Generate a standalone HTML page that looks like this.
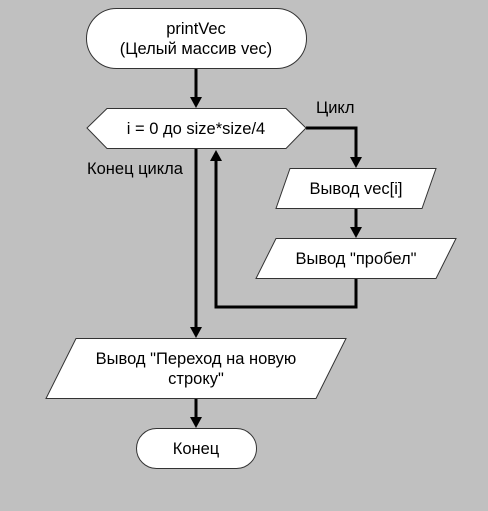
<!DOCTYPE html>
<html><head><meta charset="utf-8"><style>
html,body{margin:0;padding:0;background:#c0c0c0;}
svg{display:block;}
text{font-family:"Liberation Sans",Arial,sans-serif;font-size:16.5px;fill:#000;}
</style></head><body>
<svg width="488" height="511" viewBox="0 0 488 511" xmlns="http://www.w3.org/2000/svg">
<rect width="488" height="511" fill="#c0c0c0"/>
<g stroke="#000" stroke-width="3" fill="none">
<line x1="196" y1="68" x2="196" y2="100"/>
<polyline points="306,128 356,128 356,160"/>
<line x1="356" y1="208" x2="356" y2="230"/>
<polyline points="356,278 356,307 216,307 216,158"/>
<line x1="196" y1="148" x2="196" y2="330"/>
<line x1="196" y1="398" x2="196" y2="420"/>
</g>
<g fill="#000">
<polygon points="190,97 202,97 196,108"/>
<polygon points="350,157 362,157 356,168"/>
<polygon points="350,227 362,227 356,238"/>
<polygon points="210,161 222,161 216,150"/>
<polygon points="190,327 202,327 196,338"/>
<polygon points="190,417 202,417 196,428"/>
</g>
<g fill="#fff" stroke="#333" stroke-width="1">
<rect x="86.5" y="8.5" width="220" height="60" rx="30" ry="30"/>
<polygon points="87,128 107,108.5 286,108.5 306,128 286,148.5 107,148.5"/>
<polygon points="290,168.5 436,168.5 422,208.5 276,208.5"/>
<polygon points="276,238.5 456,238.5 436,278.5 256,278.5"/>
<polygon points="76,338.5 346,338.5 316,398.5 46,398.5"/>
<rect x="136.5" y="428.5" width="120" height="40" rx="20" ry="20"/>
</g>
<g text-anchor="middle">
<text x="196" y="34">printVec</text>
<text x="196" y="54">(Целый массив vec)</text>
<text x="196" y="134">i = 0 до size*size/4</text>
<text x="356" y="194">Вывод vec[i]</text>
<text x="356" y="264">Вывод "пробел"</text>
<text x="196" y="364">Вывод "Переход на новую</text>
<text x="196" y="384">строку"</text>
<text x="196" y="454">Конец</text>
</g>
<text x="316" y="113">Цикл</text>
<text x="87" y="174">Конец цикла</text>
</svg>
</body></html>
